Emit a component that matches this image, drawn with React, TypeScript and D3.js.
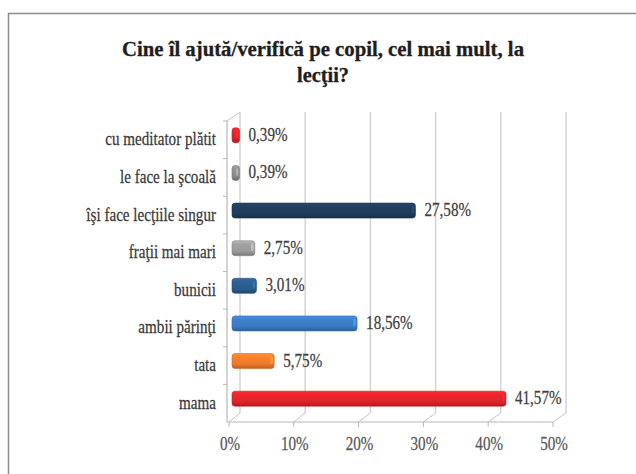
import React from "react";
import * as d3 from "d3";

// categories top to bottom, values in percent
const categories = [
  "cu meditator plătit",
  "le face la şcoală",
  "îşi face lecţiile singur",
  "fraţii mai mari",
  "bunicii",
  "ambii părinţi",
  "tata",
  "mama",
];
const values = [0.39, 0.39, 27.58, 2.75, 3.01, 18.56, 5.75, 41.57];
const valueLabels = ["0,39%", "0,39%", "27,58%", "2,75%", "3,01%", "18,56%", "5,75%", "41,57%"];
const ticks = [0, 10, 20, 30, 40, 50];
const tickLabels = ["0%", "10%", "20%", "30%", "40%", "50%"];
const titleLines = ["Cine îl ajută/verifică  pe copil, cel mai mult, la", "lecţii?"];

const barColors = ["#d8232a", "#8a8a8a", "#1f3b5c", "#9a9a9a", "#2b5b8c", "#3a7ac0", "#ee7a2a", "#e0232b"];

const W = 636;
const H = 474;
const FONT = "'Liberation Serif', 'Times New Roman', serif";
const SQ = 0.84; // horizontal squeeze of the source picture

// 3D depth offset between front plane and back wall
const DX = 11;
const DY = -9;

export default function App() {
  const frontY = 422;
  const backTop = 112;

  const xFront = d3.scaleLinear().domain([0, 50]).range([229, 553]);
  const xBack = d3.scaleLinear().domain([0, 50]).range([229 + DX, 553 + DX + 2]);
  const xBar = d3.scaleLinear().domain([0, 50]).range([237, 560.5]);
  const y = d3.scaleBand().domain(categories).range([backTop - DY, frontY]);

  const barH = 15;
  const barCenter = (c: string) => (y(c) as number) + y.bandwidth() / 2 - 4.5;

  return (
    <svg width={W} height={H} style={{ position: "fixed", left: 0, top: 0, background: "#fff" }}>
      <defs>
        {barColors.map((c, i) => {
          const base = d3.color(c)!;
          return (
            <linearGradient key={i} id={`g${i}`} x1="0" y1="0" x2="0" y2="1">
              <stop offset="0%" stopColor={base.brighter(0.5).formatHex()} />
              <stop offset="25%" stopColor={base.brighter(0.15).formatHex()} />
              <stop offset="70%" stopColor={base.formatHex()} />
              <stop offset="100%" stopColor={base.darker(0.7).formatHex()} />
            </linearGradient>
          );
        })}
      </defs>

      {/* frame */}
      <rect x={8.5} y={13.5} width={700} height={500} fill="none" stroke="#8c8c8c" strokeWidth={1.5} />

      {/* title */}
      {titleLines.map((t, i) => (
        <text
          key={i}
          x={323}
          y={56 + i * 26}
          textAnchor="middle"
          fontFamily={FONT}
          fontWeight="bold"
          fontSize={20}
          fill="#1e1e1e"
          stroke="#1e1e1e"
          strokeWidth={0.3}
          textLength={i === 0 ? 402 : 52}
          lengthAdjust="spacingAndGlyphs"
        >
          {t}
        </text>
      ))}

      {/* back wall gridlines */}
      {ticks.map((t) => (
        <line key={"g" + t} x1={xBack(t)} x2={xBack(t)} y1={backTop} y2={frontY + DY}
          stroke="#d4d4d4" strokeWidth={1.5} />
      ))}
      {/* floor diagonals */}
      {ticks.map((t) => (
        <line key={"f" + t} x1={xFront(t)} x2={xBack(t)} y1={frontY} y2={frontY + DY}
          stroke="#c4c4c4" strokeWidth={1} />
      ))}
      {/* left side wall top edge */}
      <line x1={xFront(0) - 2} x2={xBack(0)} y1={backTop - DY} y2={backTop} stroke="#c4c4c4" />

      {/* front axes */}
      <line x1={xFront(0) - 2} x2={xFront(0) - 2} y1={backTop - DY} y2={frontY} stroke="#b8b8b8" strokeWidth={1.2} />
      <line x1={xFront(0) - 2} x2={xFront(50)} y1={frontY} y2={frontY} stroke="#b8b8b8" strokeWidth={1.2} />
      {ticks.map((t) => (
        <line key={"t" + t} x1={xFront(t)} x2={xFront(t)} y1={frontY} y2={frontY + 5} stroke="#b8b8b8" />
      ))}
      {categories.map((c) => (
        <line key={"ct" + c} x1={xFront(0) - 6} x2={xFront(0) - 2} y1={y(c)} y2={y(c)} stroke="#b8b8b8" />
      ))}

      {/* bars */}
      {categories.map((c, i) => {
        const x0 = xBar(0) - 5;
        const x1 = xBar(values[i]);
        const cy = barCenter(c);
        const base = d3.color(barColors[i])!;
        return (
          <g key={"b" + c}>
            <rect x={x0} y={cy - barH / 2} width={x1 - x0} height={barH} rx={3} ry={3}
              fill={`url(#g${i})`} stroke={base.darker(0.4).formatHex()} strokeWidth={0.6} />
            <ellipse cx={x1 - 2.5} cy={cy - 1} rx={1.2} ry={4}
              fill={base.brighter(0.9).formatHex()} opacity={0.7} />
          </g>
        );
      })}

      {/* value labels */}
      {categories.map((c, i) => (
        <text key={"v" + c}
          transform={`translate(${xBar(values[i]) + 9},${barCenter(c) + 5.5}) scale(${SQ},1)`}
          fontFamily={FONT} fontSize={18} fill="#404040" stroke="#404040" strokeWidth={0.25}>
          {valueLabels[i]}
        </text>
      ))}

      {/* category labels */}
      {categories.map((c) => (
        <text key={"c" + c}
          transform={`translate(216,${(y(c) as number) + y.bandwidth() / 2 + 5.5}) scale(${SQ},1)`}
          textAnchor="end" fontFamily={FONT} fontSize={18} fill="#3a3a3a" stroke="#3a3a3a" strokeWidth={0.25}>
          {c}
        </text>
      ))}

      {/* x tick labels */}
      {ticks.map((t, i) => (
        <text key={"xl" + t}
          transform={`translate(${xFront(t) + 1},450) scale(${SQ},1)`}
          textAnchor="middle" fontFamily={FONT} fontSize={18} fill="#595959" stroke="#595959" strokeWidth={0.25}>
          {tickLabels[i]}
        </text>
      ))}
    </svg>
  );
}
